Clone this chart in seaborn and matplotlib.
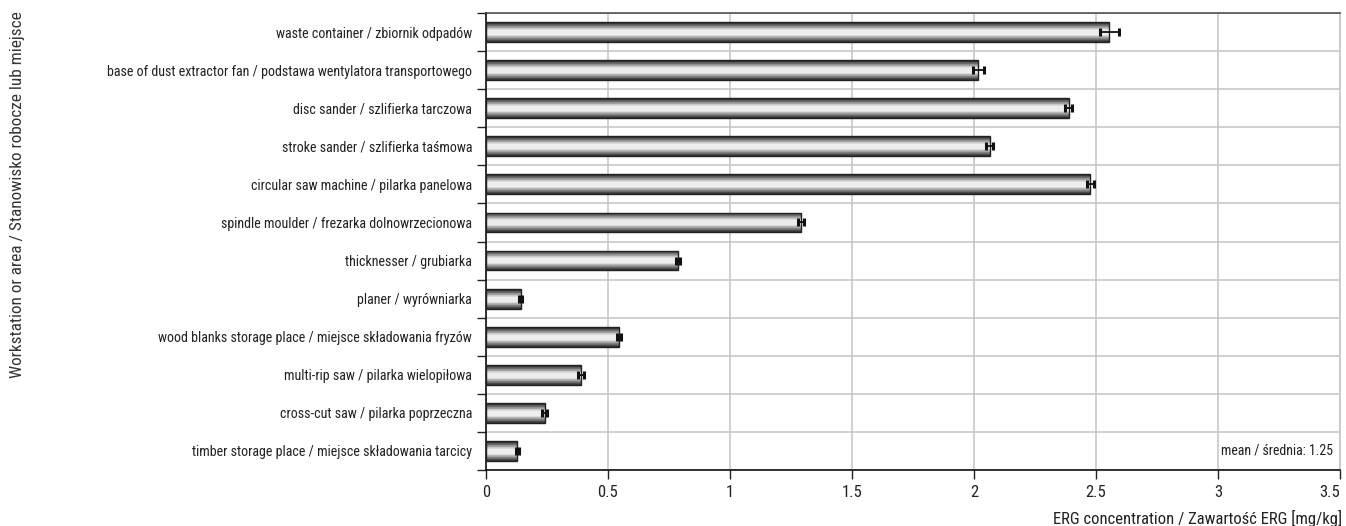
import numpy as np
import pandas as pd
import matplotlib
matplotlib.use("Agg")
import matplotlib.pyplot as plt
from matplotlib import font_manager
from matplotlib.ticker import FixedLocator
import seaborn as sns

categories = [
    "waste container / zbiornik odpadów",
    "base of dust extractor fan / podstawa wentylatora transportowego",
    "disc sander / szlifierka tarczowa",
    "stroke sander / szlifierka taśmowa",
    "circular saw machine / pilarka panelowa",
    "spindle moulder / frezarka dolnowrzecionowa",
    "thicknesser / grubiarka",
    "planer / wyrówniarka",
    "wood blanks storage place / miejsce składowania fryzów",
    "multi-rip saw / pilarka wielopiłowa",
    "cross-cut saw / pilarka poprzeczna",
    "timber storage place / miejsce składowania tarcicy",
]
values = [2.555, 2.018, 2.388, 2.065, 2.476, 1.290, 0.788, 0.142, 0.546, 0.388, 0.240, 0.129]
errors = [0.040, 0.022, 0.015, 0.014, 0.014, 0.012, 0.008, 0.005, 0.008, 0.012, 0.010, 0.005]
x_ticks = [0, 0.5, 1, 1.5, 2, 2.5, 3, 3.5]
x_tick_labels = ["0", "0.5", "1", "1.5", "2", "2.5", "3", "3.5"]
mean_label = "mean / średnia: 1.25"
x_label = "ERG concentration / Zawartość ERG [mg/kg]"
y_label = "Workstation or area / Stanowisko robocze lub miejsce"

sns.set_style("white")
available = {f.name for f in font_manager.fontManager.ttflist}
family = None
for cand in ["Liberation Sans Narrow", "Roboto Condensed", "Open Sans Condensed", "Liberation Sans"]:
    if cand in available:
        family = cand
        break
plt.rcParams["font.family"] = [family, "DejaVu Sans"] if family else ["DejaVu Sans"]
FS_CAT = 10.1
FS_TICK = 12.0
FS_LAB = 12.0
TXT = "#222222"

df = pd.DataFrame({"cat": categories, "val": values})

fig = plt.figure(figsize=(13.46, 5.26), dpi=100)
ax = fig.add_axes([486 / 1346, 56 / 526, (1340 - 486) / 1346, (470 - 13) / 526])

sns.barplot(data=df, y="cat", x="val", orient="h", ax=ax, width=0.52,
            color="#888888", errorbar=None, edgecolor="#222222", linewidth=1.0,
            zorder=3)

# cylinder-like gradient inside each bar
t = np.linspace(0, 1, 200)
prof = 0.18 + 0.78 * np.clip(np.cos((t - 0.52) * np.pi), 0, 1) ** 1.4
prof = np.round(prof * 14) / 14
grad = prof[:, None]
for p in list(ax.patches):
    x0, y0, w, h = p.get_x(), p.get_y(), p.get_width(), p.get_height()
    im = ax.imshow(grad, extent=[x0, x0 + w, y0 + h, y0], origin="upper",
                   aspect="auto", cmap="gray", vmin=0, vmax=1,
                   interpolation="nearest", zorder=3.5)
    im.set_clip_path(p)
    p.set_facecolor("none")
    p.set_zorder(4)

pos = np.arange(len(categories))
ax.errorbar(values, pos, xerr=errors, fmt="none", ecolor="#111111",
            elinewidth=1.3, capsize=3.2, capthick=2.2, zorder=5)

ax.set_xlim(0, 3.5)
ax.set_ylim(len(categories) - 0.5, -0.5)
ax.set_aspect("auto")

ax.set_xticks(x_ticks)
ax.set_xticklabels(x_tick_labels, fontsize=FS_TICK, color=TXT)
ax.get_xticklabels()[-1].set_horizontalalignment("right")
ax.set_yticks(pos)
ax.set_yticklabels(categories, fontsize=FS_CAT, color=TXT)
ax.yaxis.set_minor_locator(FixedLocator(np.arange(-0.5, len(categories), 1.0)))

ax.tick_params(axis="y", which="major", length=0, pad=10)
ax.tick_params(axis="y", which="minor", length=6.3, width=1.0, color="#222222", left=True)
ax.tick_params(axis="x", which="major", length=6.5, width=1.0, color="#222222",
               bottom=True, pad=4)

ax.grid(False)
ax.grid(axis="x", which="major", color="#c4c4c4", linewidth=1.1, zorder=0)
ax.grid(axis="y", which="minor", color="#c4c4c4", linewidth=1.1, zorder=0)
ax.set_axisbelow(True)

for s in ["left", "bottom"]:
    ax.spines[s].set_color("#111111")
    ax.spines[s].set_linewidth(1.2)
ax.spines["top"].set_color("#444444")
ax.spines["top"].set_linewidth(1.1)
ax.spines["right"].set_color("#c4c4c4")
ax.spines["right"].set_linewidth(1.1)

ax.set_xlabel("")
ax.set_ylabel("")

ax.text(0.992, 11, mean_label, transform=ax.get_yaxis_transform(),
        ha="right", va="center", fontsize=10.0, color=TXT, zorder=6)

fig.text(1342 / 1346, 1 - 518 / 526, x_label, ha="right", va="center",
         fontsize=FS_LAB, color=TXT)
fig.text(18 / 1346, 1 - 195 / 526, y_label, ha="center", va="center",
         rotation=90, fontsize=12.4, color="#333333")

fig.savefig("out.png", dpi=100, facecolor="white")
